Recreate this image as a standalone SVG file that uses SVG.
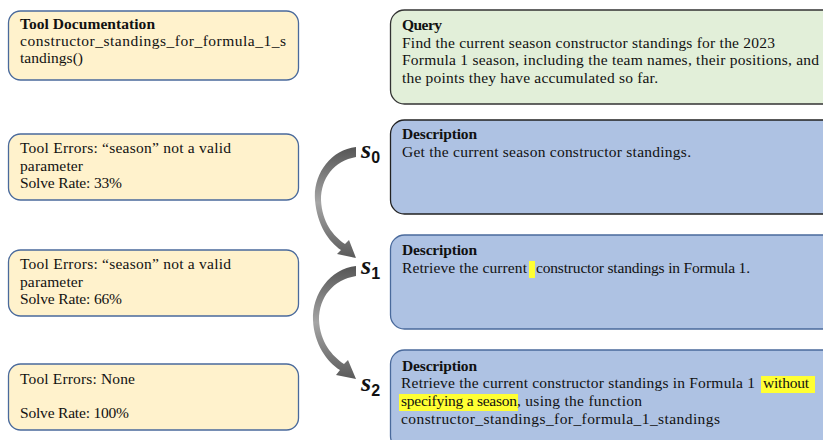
<svg xmlns="http://www.w3.org/2000/svg" width="823" height="440" viewBox="0 0 823 440">
<style>
.t{font-family:"Liberation Serif","Times New Roman",serif;font-size:15.5px;fill:#111}
.b{font-weight:bold}
.tool{fill:#fff2cc;stroke:#4a6a9c;stroke-width:1.3}
.query{fill:#e2efd9;stroke:#333;stroke-width:1.3}
.desc{fill:#aec2e3;stroke:#4a6a9c;stroke-width:1.3}
.descd{fill:#aec2e3;stroke:#222;stroke-width:1.3}
.hl{fill:#ffff33}
.s{font-family:"Liberation Serif",serif;font-style:italic;font-weight:bold;font-size:26px;fill:#111}
.sub{font-family:"Liberation Sans",sans-serif;font-size:16px;font-style:normal;font-weight:bold;fill:#111}
.arr{fill:url(#g)}
</style>
<defs>
<linearGradient id="g" x1="0" y1="0" x2="0" y2="1">
<stop offset="0" stop-color="#555"/>
<stop offset="0.5" stop-color="#a5a5a5"/>
<stop offset="1" stop-color="#5a5a5a"/>
</linearGradient>
</defs>

<g id="tooldoc">
<rect class="tool" x="8.5" y="11" width="290" height="69" rx="12"/>
<text class="t b" x="20" y="29" textLength="135">Tool Documentation</text>
<text class="t" x="20" y="46" textLength="266">constructor_standings_for_formula_1_s</text>
<text class="t" x="20" y="63" textLength="63">tandings()</text>
</g>
<g id="err0">
<rect class="tool" x="8.5" y="134" width="290" height="66" rx="12"/>
<text class="t" x="20" y="153" textLength="211">Tool Errors: “season” not a valid</text>
<text class="t" x="20" y="171" textLength="63">parameter</text>
<text class="t" x="20" y="188" textLength="102">Solve Rate: 33%</text>
</g>
<g id="err1">
<rect class="tool" x="8.5" y="250" width="290" height="66" rx="12"/>
<text class="t" x="20" y="269" textLength="211">Tool Errors: “season” not a valid</text>
<text class="t" x="20" y="287" textLength="63">parameter</text>
<text class="t" x="20" y="304" textLength="102">Solve Rate: 66%</text>
</g>
<g id="err2">
<rect class="tool" x="8.5" y="364" width="290" height="66" rx="12"/>
<text class="t" x="20" y="384" textLength="115">Tool Errors: None</text>
<text class="t" x="20" y="418" textLength="109">Solve Rate: 100%</text>
</g>

<g id="query">
<rect class="query" x="390.5" y="10" width="450" height="94" rx="14"/>
<text class="t b" x="402" y="30" textLength="40">Query</text>
<text class="t" x="402" y="48" textLength="373">Find the current season constructor standings for the 2023</text>
<text class="t" x="402" y="65" textLength="417">Formula 1 season, including the team names, their positions, and</text>
<text class="t" x="402" y="83" textLength="256">the points they have accumulated so far.</text>
</g>

<g id="desc0">
<rect class="descd" x="390.5" y="120" width="450" height="94" rx="14"/>
<text class="t b" x="402" y="139" textLength="75">Description</text>
<text class="t" x="402" y="157" textLength="289">Get the current season constructor standings.</text>
</g>
<g id="desc1">
<rect class="desc" x="390.5" y="235" width="450" height="94" rx="14"/>
<rect class="hl" x="529" y="261" width="6" height="17"/>
<text class="t b" x="402" y="255" textLength="75">Description</text>
<text class="t" x="402" y="273" textLength="125">Retrieve the current</text>
<text class="t" x="536" y="273" textLength="214">constructor standings in Formula 1.</text>
</g>
<g id="desc2">
<rect class="desc" x="390.5" y="350" width="450" height="100" rx="14"/>
<rect class="hl" x="761" y="376" width="54" height="17"/>
<rect class="hl" x="399" y="394" width="119" height="17"/>
<text class="t b" x="402" y="371" textLength="75">Description</text>
<text class="t" x="401" y="388" textLength="354">Retrieve the current constructor standings in Formula 1</text>
<text class="t" x="763" y="388" textLength="46">without</text>
<text class="t" x="401" y="406" textLength="116">specifying a season</text>
<text class="t" x="517" y="406" textLength="125">, using the function</text>
<text class="t" x="401" y="424" textLength="319">constructor_standings_for_formula_1_standings</text>
</g>

<g id="labels">
<text class="s" x="361" y="158">s<tspan class="sub" dy="5">0</tspan></text>
<text class="s" x="361" y="274">s<tspan class="sub" dy="5">1</tspan></text>
<text class="s" x="361" y="391">s<tspan class="sub" dy="5">2</tspan></text>
</g>

<g id="connectors">
<path class="arr" d="M356 147 C330 150 313 175 315 200 C317 225 329 242 341 250 L337 254 L356 258 L349 240 L345 244 C333 236 322 222 321 200 C321 178 334 161 356 157 Z"/>
<path class="arr" d="M356 266 C330 269 312 294 313 320 C314 344 327 362 340 370 L336 375 L356 379 L348 360 L344 364 C332 356 320 342 319 320 C319 297 333 280 356 276 Z"/>
</g>
</svg>
